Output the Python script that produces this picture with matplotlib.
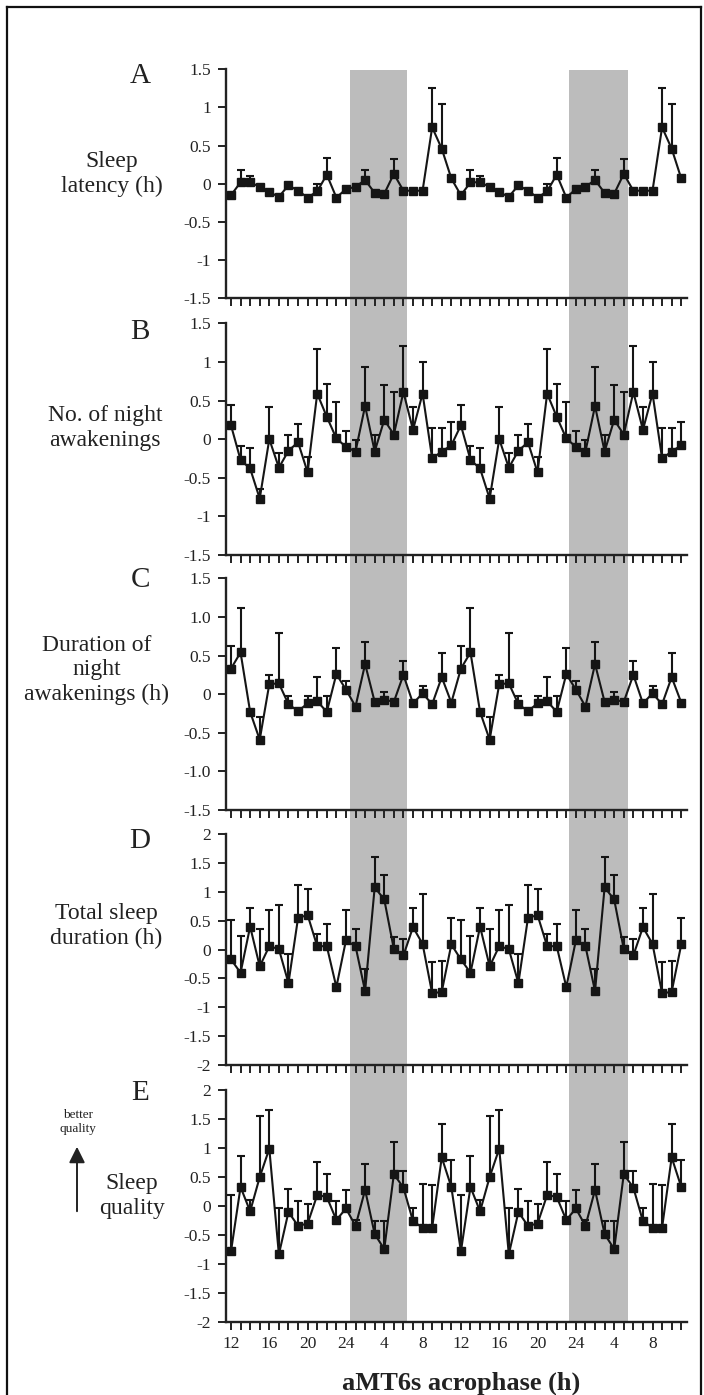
import numpy as np
import matplotlib
matplotlib.use('Agg')
import matplotlib.pyplot as plt
import matplotlib.transforms as mtransforms
from matplotlib.patches import Rectangle, FancyArrowPatch
from matplotlib.lines import Line2D

plt.rcParams['font.family'] = ['Liberation Serif', 'DejaVu Serif']

# ---------------- data (one 24-h cycle, double plotted) ----------------
hours_day = np.arange(12, 36)          # 12 h ... 11 h next day

latency_mean = [-0.15, 0.02, 0.02, -0.04, -0.11, -0.17, -0.02, -0.09, -0.18, -0.10, 0.12, -0.18,
                -0.07, -0.04, 0.05, -0.12, -0.13, 0.13, -0.09, -0.09, -0.09, 0.74, 0.46, 0.07]
latency_err = [0.0, 0.16, 0.08, 0.02, 0.0, 0.0, 0.03, 0.0, 0.02, 0.10, 0.22, 0.0,
               0.0, 0.0, 0.13, 0.0, 0.0, 0.19, 0.0, 0.0, 0.0, 0.51, 0.59, 0.0]

awak_mean = [0.18, -0.27, -0.38, -0.77, 0.00, -0.37, -0.15, -0.04, -0.43, 0.59, 0.29, 0.01,
             -0.10, -0.16, 0.43, -0.16, 0.25, 0.06, 0.61, 0.12, 0.59, -0.25, -0.16, -0.08]
awak_err = [0.26, 0.18, 0.27, 0.13, 0.41, 0.19, 0.21, 0.23, 0.20, 0.58, 0.43, 0.47,
            0.20, 0.15, 0.50, 0.22, 0.45, 0.55, 0.60, 0.30, 0.41, 0.39, 0.30, 0.30]

dur_awak_mean = [0.33, 0.54, -0.23, -0.59, 0.13, 0.14, -0.13, -0.22, -0.12, -0.09, -0.23, 0.26,
                 0.06, -0.16, 0.39, -0.10, -0.07, -0.10, 0.25, -0.12, 0.01, -0.13, 0.22, -0.11]
dur_awak_err = [0.29, 0.58, 0.0, 0.30, 0.12, 0.65, 0.10, 0.0, 0.09, 0.31, 0.20, 0.34,
                0.11, 0.0, 0.28, 0.0, 0.10, 0.0, 0.18, 0.0, 0.09, 0.0, 0.31, 0.0]

tsd_mean = [-0.17, -0.40, 0.40, -0.29, 0.06, 0.01, -0.58, 0.55, 0.60, 0.06, 0.06, -0.65,
            0.16, 0.06, -0.72, 1.08, 0.87, 0.01, -0.10, 0.39, 0.10, -0.76, -0.73, 0.09]
tsd_err = [0.69, 0.63, 0.33, 0.65, 0.62, 0.77, 0.51, 0.57, 0.46, 0.22, 0.39, 0.0,
           0.53, 0.30, 0.39, 0.53, 0.42, 0.21, 0.29, 0.34, 0.87, 0.55, 0.53, 0.46]

quality_mean = [-0.78, 0.33, -0.09, 0.50, 0.99, -0.83, -0.10, -0.34, -0.30, 0.19, 0.16, -0.24,
                -0.04, -0.34, 0.28, -0.48, -0.74, 0.55, 0.32, -0.26, -0.37, -0.37, 0.84, 0.33]
quality_err = [0.98, 0.53, 0.20, 1.06, 0.66, 0.80, 0.39, 0.43, 0.33, 0.57, 0.40, 0.33,
               0.32, 0.10, 0.45, 0.22, 0.48, 0.55, 0.29, 0.23, 0.76, 0.73, 0.57, 0.47]

panel_letters = ['A', 'B', 'C', 'D', 'E']
panel_titles = ['Sleep\nlatency (h)', 'No. of night\nawakenings',
                'Duration of\nnight\nawakenings (h)', 'Total sleep\nduration (h)',
                'Sleep\nquality']

yticks_15 = [1.5, 1, 0.5, 0, -0.5, -1, -1.5]
ylabels_ab = ['1.5', '1', '0.5', '0', '-0.5', '-1', '-1.5']
ylabels_c = ['1.5', '1.0', '0.5', '0', '-0.5', '-1.0', '-1.5']
yticks_2 = [2, 1.5, 1, 0.5, 0, -0.5, -1, -1.5, -2]
ylabels_de = ['2', '1.5', '1', '0.5', '0', '-0.5', '-1', '-1.5', '-2']

xtick_pos = [12, 16, 20, 24, 28, 32, 36, 40, 44, 48, 52, 56]
xtick_labels = ['12', '16', '20', '24', '4', '8', '12', '16', '20', '24', '4', '8']

night_bands = [(24.42, 30.42), (47.28, 53.39)]

# ---------------- figure ----------------
W, H = 704, 1395
fig = plt.figure(figsize=(W / 100, H / 100), dpi=100)
fig.patch.set_facecolor('white')


def fx(px):
    return px / W


def fy(py):
    return 1 - py / H


panel_pix = [(69.3, 298.3), (323.3, 555.0), (578.3, 810.0), (834.3, 1065.0), (1090.0, 1322.3)]
ax_left, ax_right = 226, 687

series = [(latency_mean, latency_err, yticks_15, ylabels_ab, 1.5),
          (awak_mean, awak_err, yticks_15, ylabels_ab, 1.5),
          (dur_awak_mean, dur_awak_err, yticks_15, ylabels_c, 1.5),
          (tsd_mean, tsd_err, yticks_2, ylabels_de, 2.0),
          (quality_mean, quality_err, yticks_2, ylabels_de, 2.0)]

hours = np.concatenate([hours_day, hours_day + 24])
axes = []
for i, (mean, err, yt, yl, lim) in enumerate(series):
    top, bot = panel_pix[i]
    ax = fig.add_axes([fx(ax_left), fy(bot), (ax_right - ax_left) / W, (bot - top) / H])
    ax.set_facecolor('none')
    m = np.tile(np.array(mean), 2)
    e = np.tile(np.array(err), 2)
    ax.errorbar(hours, m, yerr=[np.zeros_like(e), e], fmt='none', ecolor='#151515',
                elinewidth=1.5, capsize=3.2, capthick=1.5, zorder=2)
    ax.plot(hours, m, color='#151515', lw=1.5, marker='s', ms=6.3,
            mfc='#151515', mec='#151515', zorder=3)
    ax.set_xlim(11.48, 59.6)
    ax.set_ylim(-lim, lim)
    ax.set_yticks(yt)
    ax.set_yticklabels(yl)
    ax.set_xticks(np.arange(12, 60))
    if i == len(series) - 1:
        labs = []
        for h in range(12, 60):
            labs.append(xtick_labels[xtick_pos.index(h)] if h in xtick_pos else '')
        ax.set_xticklabels(labs)
    else:
        ax.set_xticklabels([])
    for s in ['top', 'right']:
        ax.spines[s].set_visible(False)
    for s in ['left', 'bottom']:
        ax.spines[s].set_linewidth(1.7)
        ax.spines[s].set_color('#222222')
    ax.tick_params(axis='y', direction='out', length=6, width=1.4, labelsize=12.5,
                   pad=5, colors='#222222')
    ax.tick_params(axis='x', direction='out', length=6, width=1.4, labelsize=12.5,
                   pad=4, colors='#222222')
    axes.append(ax)

# shaded night bands spanning all panels
trans = mtransforms.blended_transform_factory(axes[0].transData, fig.transFigure)
for (x0, x1) in night_bands:
    fig.add_artist(Rectangle((x0, fy(1322.3)), x1 - x0, fy(70) - fy(1322.3),
                             transform=trans, facecolor='#bcbcbc', edgecolor='none',
                             zorder=-1))

# panel letters and titles
letter_pos = [(140, 76), (140, 332), (140, 580), (140, 841), (140, 1093)]
for L, (x, y) in zip(panel_letters, letter_pos):
    fig.text(fx(x), fy(y), L, fontsize=21, ha='center', va='center', color='#222222')

title_pos = [(112, 174), (105, 428), (97, 670), (106, 926), (132, 1196)]
for t, (x, y) in zip(panel_titles, title_pos):
    fig.text(fx(x), fy(y), t, fontsize=17, ha='center', va='center',
             linespacing=1.2, color='#222222')

fig.text(fx(78), fy(1122), 'better\nquality', fontsize=9.5, ha='center', va='center',
         linespacing=1.15, color='#222222')
fig.add_artist(FancyArrowPatch((fx(77), fy(1214)), (fx(77), fy(1144)),
                               transform=fig.transFigure, arrowstyle='-|>',
                               mutation_scale=24, lw=1.4, color='#222222'))

fig.text(fx(461), fy(1383), 'aMT6s acrophase (h)', fontsize=19, fontweight='bold',
         ha='center', va='center', color='#222222')

# frame around the figure
for xs, ys in [([7, 7], [7, H]), ([7, 701], [7, 7]), ([701, 701], [7, H])]:
    fig.add_artist(Line2D([fx(v) for v in xs], [fy(v) for v in ys],
                          transform=fig.transFigure, color='#111111', lw=1.6))

fig.savefig('out.png', dpi=100)
